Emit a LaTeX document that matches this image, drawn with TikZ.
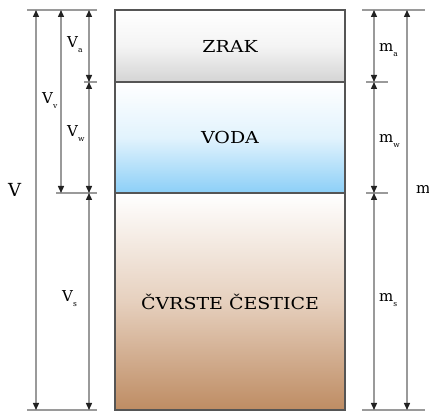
\documentclass[tikz,border=0pt]{standalone}
\usepackage{fontspec}
\setmainfont{DejaVu Serif}
\usetikzlibrary{arrows.meta}
\definecolor{linegray}{HTML}{9A9A9A}
\definecolor{tipdark}{HTML}{222222}
\definecolor{boxline}{HTML}{555555}
\definecolor{airbot}{HTML}{D4D4D4}
\definecolor{airmid}{HTML}{F4F4F4}
\definecolor{waterbot}{HTML}{8CCFF7}
\definecolor{watermid}{HTML}{E2F3FD}
\definecolor{soilbot}{HTML}{BE8C63}
\definecolor{soilmid}{HTML}{E6D0BE}
\newcommand{\lbl}[2]{#1\raisebox{-5pt}{\fontsize{7.5}{8}\selectfont #2}}
\newcommand{\phasetxt}[1]{\fontsize{16.5}{19}\selectfont\scalebox{1.15}[1]{#1}}
\begin{document}
\begin{tikzpicture}[x=1pt,y=-1pt,
  dim/.style={draw=linegray,line width=1.4pt,
     {Triangle[width=6pt,length=7pt,color=tipdark]}-{Triangle[width=6pt,length=7pt,color=tipdark]}},
  tick/.style={draw=linegray,line width=1.4pt},
  layer/.style={draw=boxline,line width=1.6pt,minimum width=230pt,inner sep=0pt,text=black,shading=axis,top color=white},
  lab/.style={anchor=base west,inner sep=0pt,text=black,font=\fontsize{15}{17}\selectfont}
]
\useasboundingbox (0,0) rectangle (429,414);
% layers
\node[layer,minimum height=72pt,bottom color=airbot,middle color=airmid] (air) at (230,46) {\phasetxt{ZRAK}};
\node[layer,minimum height=111pt,bottom color=waterbot,middle color=watermid] (water) at (230,137.5) {\phasetxt{VODA}};
\node[layer,minimum height=217pt,bottom color=soilbot,middle color=soilmid] (solid) at (230,301.5) {\phasetxt{ČVRSTE ČESTICE}};
% coordinates left
\coordinate (lt1) at (27,10);  \coordinate (lt2) at (97,10);
\coordinate (lb1) at (27,410); \coordinate (lb2) at (97,410);
\coordinate (la1) at (84,82);  \coordinate (la2) at (97,82);
\coordinate (lw1) at (56,193); \coordinate (lw2) at (97,193);
\coordinate (V1) at (36,10); \coordinate (V2) at (36,410);
\coordinate (Vv1) at (61,10); \coordinate (Vv2) at (61,193);
\coordinate (Vi0) at (89,10); \coordinate (Vi1) at (89,82); \coordinate (Vi2) at (89,193); \coordinate (Vi3) at (89,410);
% coordinates right
\coordinate (rt1) at (362,10);  \coordinate (rt2) at (425,10);
\coordinate (rb1) at (362,410); \coordinate (rb2) at (425,410);
\coordinate (ra1) at (366,82);  \coordinate (ra2) at (388,82);
\coordinate (rw1) at (366,193); \coordinate (rw2) at (388,193);
\coordinate (M1) at (407,10); \coordinate (M2) at (407,410);
\coordinate (Mi0) at (374,10); \coordinate (Mi1) at (374,82); \coordinate (Mi2) at (374,193); \coordinate (Mi3) at (374,410);
% ticks
\draw[tick] (lt1) -- (lt2); \draw[tick] (lb1) -- (lb2);
\draw[tick] (la1) -- (la2); \draw[tick] (lw1) -- (lw2);
\draw[tick] (rt1) -- (rt2); \draw[tick] (rb1) -- (rb2);
\draw[tick] (ra1) -- (ra2); \draw[tick] (rw1) -- (rw2);
% dimension lines
\draw[dim] (V1) -- (V2);
\draw[dim] (Vv1) -- (Vv2);
\draw[dim] (Vi0) -- (Vi1);
\draw[dim] (Vi1) -- (Vi2);
\draw[dim] (Vi2) -- (Vi3);
\draw[dim] (M1) -- (M2);
\draw[dim] (Mi0) -- (Mi1);
\draw[dim] (Mi1) -- (Mi2);
\draw[dim] (Mi2) -- (Mi3);
% labels
\node[lab,font=\fontsize{18}{20}\selectfont] (lV) at (8,197) {V};
\node[lab] (lVv) at (42,104) {\lbl{V}{v}};
\node[lab] (lVa) at (67,48) {\lbl{V}{a}};
\node[lab] (lVw) at (67,137) {\lbl{V}{w}};
\node[lab] (lVs) at (62,302) {\lbl{V}{s}};
\node[lab] (lma) at (379,52) {\lbl{m}{a}};
\node[lab] (lmw) at (379,143) {\lbl{m}{w}};
\node[lab] (lms) at (379,302) {\lbl{m}{s}};
\node[lab] (lm) at (416,194) {m};
\end{tikzpicture}
\end{document}
